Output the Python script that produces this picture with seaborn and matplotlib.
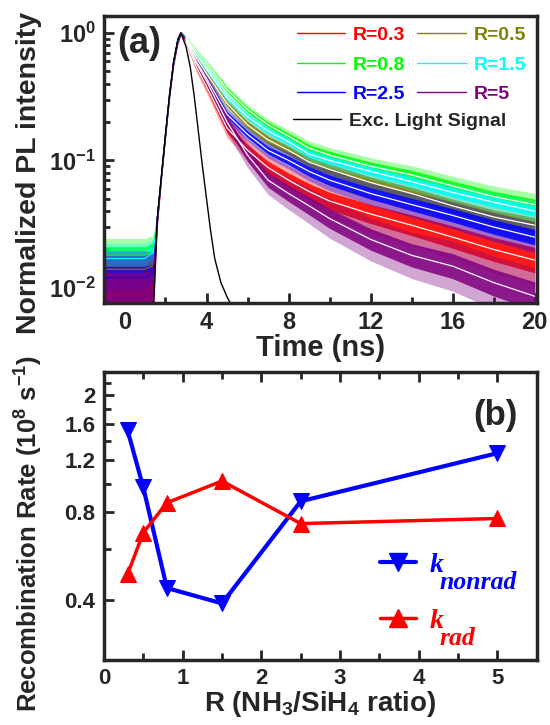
import numpy as np
import pandas as pd
import matplotlib
matplotlib.use('Agg')
import matplotlib.pyplot as plt
import seaborn as sns
from matplotlib.lines import Line2D
from matplotlib.ticker import FixedLocator, FixedFormatter, NullFormatter, LogLocator

sns.set_style('ticks')
plt.rcParams['font.family'] = ['Liberation Sans', 'DejaVu Sans']
plt.rcParams['font.weight'] = 'bold'
plt.rcParams['axes.labelweight'] = 'bold'
plt.rcParams['mathtext.fontset'] = 'custom'
plt.rcParams['mathtext.rm'] = 'Liberation Sans:bold'
plt.rcParams['mathtext.bf'] = 'Liberation Sans:bold'
plt.rcParams['mathtext.it'] = 'Liberation Sans:bold'
plt.rcParams['axes.linewidth'] = 2.5

# ---- (a) PL decay (ns, normalized) ----
t = [-1, 0, 1, 1.4, 1.6, 1.8, 2.0, 2.2, 2.4, 2.6, 2.75, 3.0, 3.5, 4, 5, 6, 7, 8,
     9, 10, 12, 14, 16, 18, 20]
pl_r03 = [0.009, 0.009, 0.009, 0.010, 0.035, 0.075, 0.16, 0.33, 0.60, 0.88, 1.0,
          0.86, 0.54, 0.38, 0.18, 0.12, 0.088, 0.070, 0.057, 0.048, 0.038, 0.031,
          0.025, 0.020, 0.0165]
pl_r05 = [0.014, 0.014, 0.014, 0.015, 0.035, 0.075, 0.16, 0.33, 0.60, 0.88, 1.0,
          0.90, 0.64, 0.48, 0.28, 0.19, 0.145, 0.12, 0.097, 0.085, 0.067, 0.055,
          0.044, 0.036, 0.031]
pl_r08 = [0.018, 0.018, 0.018, 0.020, 0.035, 0.075, 0.16, 0.33, 0.60, 0.88, 1.0,
          0.92, 0.72, 0.58, 0.36, 0.25, 0.19, 0.155, 0.125, 0.11, 0.09, 0.077,
          0.063, 0.052, 0.045]
pl_r15 = [0.017, 0.017, 0.017, 0.019, 0.035, 0.075, 0.16, 0.33, 0.60, 0.88, 1.0,
          0.91, 0.68, 0.52, 0.31, 0.22, 0.17, 0.14, 0.112, 0.10, 0.082, 0.068,
          0.056, 0.047, 0.040]
pl_r25 = [0.012, 0.012, 0.012, 0.013, 0.035, 0.075, 0.16, 0.33, 0.60, 0.88, 1.0,
          0.89, 0.60, 0.44, 0.23, 0.16, 0.12, 0.10, 0.082, 0.070, 0.055, 0.045,
          0.037, 0.030, 0.025]
pl_r5 = [0.009, 0.009, 0.009, 0.010, 0.035, 0.075, 0.16, 0.33, 0.60, 0.88, 1.0,
         0.88, 0.58, 0.42, 0.20, 0.11, 0.070, 0.055, 0.044, 0.035, 0.024, 0.018,
         0.0148, 0.011, 0.0086]
# scatter of the raw counts around the fit (half width, decades)
scatter = [0.12, 0.12, 0.12, 0.10, 0.03, 0.015, 0.015, 0.015, 0.015, 0.015, 0.005,
           0.01, 0.015, 0.02, 0.03, 0.035, 0.04, 0.045, 0.05, 0.055, 0.06, 0.065,
           0.07, 0.075, 0.08]
noise_gain = [2.5, 1.5, 1.1, 1.0, 1.5, 2.8]

t_exc = [-1, 1.4, 1.6, 1.8, 2.0, 2.2, 2.4, 2.6, 2.75, 3.0, 3.2, 3.4, 3.6, 3.8, 4.0,
         4.2, 4.4, 4.7, 5.0, 5.5, 20]
exc = [0.005, 0.006, 0.035, 0.075, 0.16, 0.33, 0.60, 0.88, 1.0, 0.78, 0.55, 0.32,
       0.17, 0.09, 0.05, 0.028, 0.017, 0.011, 0.0085, 0.006, 0.006]

labels_a = ['R=0.3', 'R=0.5', 'R=0.8', 'R=1.5', 'R=2.5', 'R=5']
colors_a = ['#ff0000', '#808000', '#00ff00', '#00ffff', '#0000ff', '#800080']

# ---- (b) recombination rates (1e8 s^-1) ----
R = [0.3, 0.5, 0.8, 1.5, 2.5, 5]
k_nonrad = [1.52, 0.97, 0.44, 0.39, 0.87, 1.27]
k_rad = [0.49, 0.68, 0.86, 1.02, 0.73, 0.76]

fig = plt.figure(figsize=(5.5, 7.25), dpi=100)
ax1 = fig.add_axes([0.189, 0.582, 0.787, 0.396])
ax2 = fig.add_axes([0.189, 0.0897, 0.787, 0.397])

# panel (a): noisy counts shown as a scatter band around each fit
tt = np.array(t)
late = tt >= 3.0
curves = [pl_r03, pl_r05, pl_r08, pl_r15, pl_r25, pl_r5]
for vals, g, c in zip(curves, noise_gain, colors_a):
    v = np.array(vals)
    w = 10 ** (np.array(scatter) * g)
    ax1.fill_between(tt, v / w, v * w, color=c, lw=0, alpha=0.35)
    w2 = np.sqrt(w)
    ax1.fill_between(tt, v / w2, v * w2, color=c, lw=0, alpha=0.85)
    sns.lineplot(x=tt, y=v, color=c, lw=0.8, ax=ax1, estimator=None, sort=False)
for vals in curves:
    v = np.array(vals)
    sns.lineplot(x=tt[late], y=v[late], color='white', lw=0.9, ax=ax1,
                 estimator=None, sort=False)
sns.lineplot(x=t_exc, y=exc, color='black', lw=1.0, ax=ax1, estimator=None, sort=False)

ax1.set_yscale('log')
ax1.set_xlim(-1, 20.1)
ax1.set_ylim(0.0076, 1.36)
ax1.xaxis.set_major_locator(FixedLocator([0, 4, 8, 12, 16, 20]))
ax1.xaxis.set_minor_locator(FixedLocator([2, 6, 10, 14, 18]))
ax1.yaxis.set_major_locator(FixedLocator([0.01, 0.1, 1]))
ax1.yaxis.set_major_formatter(FixedFormatter(['$10^{-2}$', '$10^{-1}$', '$10^{0}$']))
ax1.yaxis.set_minor_locator(LogLocator(base=10, subs=np.arange(2, 10)))
ax1.yaxis.set_minor_formatter(NullFormatter())
ax1.tick_params(which='both', direction='in', width=2, labelsize=17, pad=6)
ax1.tick_params(which='major', length=7)
ax1.tick_params(which='minor', length=4)
ax1.set_xlabel('Time (ns)', fontsize=21, labelpad=0)
ax1.set_ylabel('Normalized PL intensity', fontsize=20.5)
ax1.yaxis.set_label_coords(-0.143, 0.453)
ax1.text(0.03, 0.965, '(a)', transform=ax1.transAxes, fontsize=26, fontweight='bold',
         ha='left', va='top')

h = {lab: Line2D([], [], color=c, lw=1) for lab, c in zip(labels_a, colors_a)}
order = ['R=0.3', 'R=0.8', 'R=2.5', 'R=0.5', 'R=1.5', 'R=5']
leg1 = ax1.legend([h[k] for k in order], order, loc='upper right', ncol=2, frameon=False,
                  prop={'size': 14, 'weight': 'bold'}, labelcolor='linecolor',
                  handlelength=2.5, handletextpad=0.4, columnspacing=0.6,
                  labelspacing=0.6, borderpad=0.4, borderaxespad=0.15)
ax1.add_artist(leg1)
ax1.legend([Line2D([], [], color='black', lw=1)], ['Exc. Light Signal'],
           loc='upper left', bbox_to_anchor=(0.436, 0.665), frameon=False,
           prop={'size': 14, 'weight': 'bold'}, handlelength=2.5, handletextpad=0.4,
           borderpad=0, borderaxespad=0)

# panel (b)
sns.lineplot(x=R, y=k_nonrad, color='#0000ff', lw=3, marker='v', markersize=12,
             markeredgecolor='#0000ff', ax=ax2, estimator=None, sort=False)
sns.lineplot(x=R, y=k_rad, color='#ff0000', lw=2.5, marker='^', markersize=12,
             markeredgecolor='#ff0000', ax=ax2, estimator=None, sort=False)
ax2.set_yscale('log')
ax2.set_xlim(0, 5.5)
ax2.set_ylim(0.25, 2.4)
ax2.xaxis.set_major_locator(FixedLocator([0, 1, 2, 3, 4, 5]))
ax2.xaxis.set_minor_locator(FixedLocator([0.5, 1.5, 2.5, 3.5, 4.5]))
ax2.yaxis.set_major_locator(FixedLocator([0.4, 0.8, 1.2, 1.6, 2.0]))
ax2.yaxis.set_major_formatter(FixedFormatter(['0.4', '0.8', '1.2', '1.6', '2']))
ax2.yaxis.set_minor_locator(FixedLocator([0.6, 1.0, 1.4, 1.8, 2.2]))
ax2.yaxis.set_minor_formatter(NullFormatter())
ax2.tick_params(which='both', direction='in', width=2, labelsize=16, pad=6, top=True)
ax2.tick_params(which='major', length=7)
ax2.tick_params(which='minor', length=5)
ax2.set_xlabel('R (NH$_3$/SiH$_4$ ratio)', fontsize=20, labelpad=0)
ax2.set_ylabel('Recombination Rate (10$^8$ s$^{-1}$)', fontsize=18.5)
ax2.yaxis.set_label_coords(-0.136, 0.4375)
ax2.text(0.955, 0.905, '(b)', transform=ax2.transAxes, fontsize=25, fontweight='bold',
         ha='right', va='top')

kfont = {'family': 'Liberation Serif', 'style': 'italic', 'weight': 'bold', 'size': 20}
hb = [Line2D([], [], color='#0000ff', lw=3, marker='v', markersize=13),
      Line2D([], [], color='#ff0000', lw=2.5, marker='^', markersize=13)]
leg = ax2.legend(hb, ['k', 'k'], loc='lower left', bbox_to_anchor=(0.58, 0.005),
                 frameon=False, prop=kfont, labelcolor='linecolor',
                 handlelength=1.3, handletextpad=0.5, labelspacing=1.1)
for txt, sub, c in zip(leg.get_texts(), ['nonrad', 'rad'], ['#0000ff', '#ff0000']):
    ax2.annotate(sub, xy=(1, 0), xycoords=txt, xytext=(-3, -8), textcoords='offset points',
                 color=c, family='Liberation Serif', style='italic', weight='bold',
                 fontsize=18.5, ha='left', va='baseline', zorder=10)

for ax in (ax1, ax2):
    for s in ax.spines.values():
        s.set_visible(True)
        s.set_linewidth(2.5)

fig.canvas.draw()
fig.savefig('out.png', dpi=100)
